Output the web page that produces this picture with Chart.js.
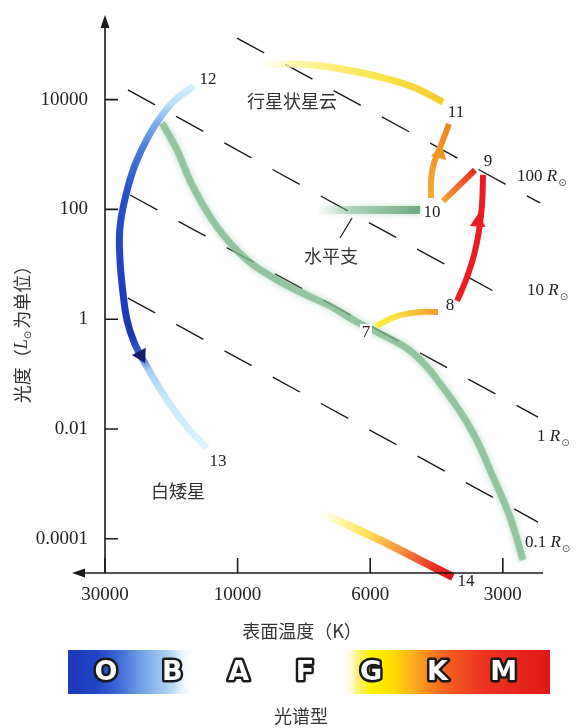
<!DOCTYPE html>
<html>
<head>
<meta charset="utf-8">
<title>太阳的演化路径（赫罗图）</title>
<script src="https://cdn.jsdelivr.net/npm/chart.js@4.4.0/dist/chart.umd.min.js"></script>
<style>
  body { margin: 0; background: #fff; }
  canvas { display: block; }
</style>
</head>
<body>
<canvas id="hr" width="581" height="728"></canvas>
<script>
// 横轴按刻度位置排布：0 = 30000 K, 1 = 10000 K, 2 = 6000 K, 3 = 3000 K
const tempTicks = [0, 1, 2, 3];
const tempLabels = ['30000', '10000', '6000', '3000'];
const lumTicks = [10000, 100, 1, 0.01, 0.0001];
const lumLabels = ['10000', '100', '1', '0.01', '0.0001'];

// 主序带
const msX = [0.43, 0.543, 0.664, 0.845, 1.071, 1.297, 1.471, 1.697, 1.9, 2.051, 2.323, 2.579, 2.775, 2.926, 3.054, 3.152];
const msL = [3750, 1208, 256, 47.8, 12.0, 5.18, 3.13, 1.74, 0.889, 0.585, 0.242, 0.0453, 0.00845, 0.00134, 0.000249, 0.0000411];
// 水平支
const hbX = [1.599, 2.376];
const hbL = [97.5, 97.5];
// 7 -> 8
const sgX = [2.044, 2.202, 2.376, 2.511];
const sgL = [0.752, 1.14, 1.35, 1.35];
// 8 -> 9
const rgX = [2.655, 2.722, 2.783, 2.821, 2.843, 2.851];
const rgL = [2.15, 5.18, 14.8, 42.2, 120, 424];
// 9 -> 10
const flX = [2.79, 2.549];
const flL = [522, 142];
// 10 -> 11
const agX = [2.459, 2.459, 2.481, 2.526, 2.594];
const agL = [161, 343, 700, 1313, 3590];
// 11 -> 12 行星状星云
const pnX = [1.192, 1.32, 1.569, 1.825, 2.074, 2.323, 2.549];
const pnL = [40900, 44500, 42700, 34600, 25800, 17000, 9040];
// 12 -> 13 白矮星
const wdX = [0.671, 0.528, 0.43, 0.324, 0.226, 0.158, 0.113, 0.113, 0.136, 0.166, 0.219, 0.317, 0.468, 0.618, 0.769];
const wdL = [17700, 9840, 5240, 2080, 644, 183, 47.8, 12.0, 3.0, 0.967, 0.384, 0.135, 0.0337, 0.0109, 0.00451];
// 14
const bdX = [1.621, 2.074, 2.624];
const bdL = [0.000308, 0.0000951, 0.0000201];

// 等半径线
const radiusNames = ['100', '10', '1', '0.1'];
const radiusX0 = [0.995, 0.173, 0.189, 0.173];
const radiusL0 = [132000, 15000, 183, 2.43];
const radiusX1 = [3.281, 2.956, 3.265, 3.265];
const radiusL1 = [131, 3.0, 0.0165, 0.000202];
const radiusTagX = [3.107, 3.183, 3.258, 3.167];
const radiusTagL = [389, 3.26, 0.00715, 0.0000838];

// 箭头
const arrowX = [0.271, 2.524, 2.813];
const arrowL = [0.22, 1035, 58.9];
const arrowRot = [152, 15, 4];
const arrowColors = ['#151b6c', '#f29422', '#ec1c24'];

// 标注
const stageText = ['12', '11', '10', '9', '8', '7', '13', '14'];
const stageX = [0.777, 2.647, 2.466, 2.888, 2.602, 1.968, 0.852, 2.722];
const stageL = [22800, 5700, 86, 730, 1.81, 0.561, 0.00251, 0.0000163];
const noteText = ['行星状星云', '水平支', '白矮星'];
const noteX = [1.41, 1.704, 0.551];
const noteL = [9420, 14.2, 0.000743];
const leaderX = [1.863, 1.772];
const leaderL = [69.7, 30.1];

const specLetters = ['O', 'B', 'A', 'F', 'G', 'K', 'M'];

const CJK = '"Noto Sans CJK SC", sans-serif';
const SERIF = '"Liberation Serif", serif';

function pts(xs, ys) {
  return xs.map((x, i) => ({ x: x, y: ys[i] }));
}

// 沿首尾两点方向的渐变
function along(stops) {
  return function (c) {
    const chart = c.chart;
    if (!chart.chartArea) return stops[0][1];
    const d = c.dataset.data;
    const a = d[0], b = d[d.length - 1];
    const sx = chart.scales.x, sy = chart.scales.y;
    const g = chart.ctx.createLinearGradient(
      sx.getPixelForValue(a.x), sy.getPixelForValue(a.y),
      sx.getPixelForValue(b.x), sy.getPixelForValue(b.y));
    stops.forEach(s => g.addColorStop(s[0], s[1]));
    return g;
  };
}

function track(data, color, width, extra) {
  return Object.assign({
    data: data,
    borderColor: color,
    borderWidth: width,
    pointRadius: 0,
    tension: 0.4,
    fill: false,
    clip: false,
    order: 1
  }, extra || {});
}

const datasets = [];

datasets.push(track(pts(arrowX, arrowL), 'transparent', 0, {
  showLine: false,
  pointRadius: 9,
  pointStyle: 'triangle',
  pointRotation: arrowRot,
  pointBackgroundColor: arrowColors,
  pointBorderWidth: 0,
  order: 0
}));

datasets.push(track(pts(wdX, wdL), along([
  [0, '#d2f0fa'], [0.05, '#b4dcf5'], [0.1, '#7eaeea'], [0.17, '#4a7ada'],
  [0.28, '#2a50cc'], [0.55, '#1e3ec2'], [0.68, '#1b36b0'], [0.735, '#3862cc'],
  [0.78, '#a6d0f2'], [0.86, '#c4e8f8'], [1, '#dcf4fb']
]), 7));

datasets.push(track(pts(pnX, pnL), along([
  [0, 'rgba(255,252,200,0.15)'], [0.15, 'rgba(253,246,160,0.85)'],
  [0.4, '#fcec70'], [0.7, '#f9e040'], [1, '#f6cc2c']
]), 7));

datasets.push(track(pts(agX, agL), along([[0, '#f6aa30'], [1, '#f08420']]), 6));
datasets.push(track(pts(flX, flL), along([[0, '#e8261e'], [1, '#f7a634']]), 6, { tension: 0 }));
datasets.push(track(pts(rgX, rgL), '#ec1c24', 6));
datasets.push(track(pts(sgX, sgL), along([[0, '#fff23c'], [0.4, '#fcd840'], [1, '#f39a2c']]), 6));
datasets.push(track(pts(bdX, bdL), along([
  [0, 'rgba(255,250,200,0)'], [0.15, '#fff8a8'], [0.35, '#ffe050'],
  [0.6, '#f59040'], [0.85, '#ec3020'], [1, '#e01020']
]), 8, { tension: 0.2 }));

datasets.push(track(pts(msX, msL), 'rgba(118,180,132,0.68)', 7, {
  glow: 'rgba(140,200,160,0.9)', order: 2
}));
datasets.push(track(pts(hbX, hbL), along([
  [0, 'rgba(130,190,150,0)'], [0.35, 'rgba(120,180,140,0.5)'], [1, 'rgba(100,165,120,0.9)']
]), 8, { tension: 0, glow: 'rgba(130,195,150,0.7)', order: 2 }));

datasets.push(track(pts(leaderX, leaderL), '#222', 1.3, { tension: 0, order: 3 }));

radiusNames.forEach((n, i) => {
  datasets.push(track(pts([radiusX0[i], radiusX1[i]], [radiusL0[i], radiusL1[i]]), '#1a1a1a', 1.4, {
    tension: 0,
    borderDash: [31, 24],
    order: 4
  }));
});

function drawRsun(ctx, num, x, y, size) {
  ctx.textAlign = 'left';
  ctx.textBaseline = 'middle';
  ctx.font = size + 'px ' + SERIF;
  ctx.fillText(num + ' ', x, y);
  x += ctx.measureText(num + ' ').width;
  ctx.font = 'italic ' + size + 'px ' + SERIF;
  ctx.fillText('R', x, y);
  x += ctx.measureText('R').width + 1;
  ctx.font = '10px "DejaVu Sans"';
  ctx.fillStyle = '#555';
  ctx.fillText('⊙', x, y + 6);
  ctx.fillStyle = '#222';
}

const hrDecor = {
  id: 'hrDecor',
  beforeDatasetDraw(chart, args) {
    const ds = chart.data.datasets[args.index];
    if (ds.glow) {
      chart.ctx.save();
      chart.ctx.shadowColor = ds.glow;
      chart.ctx.shadowBlur = 6;
    }
  },
  afterDatasetDraw(chart, args) {
    if (chart.data.datasets[args.index].glow) chart.ctx.restore();
  },
  afterDatasetsDraw(chart) {
    const ctx = chart.ctx;
    const sx = chart.scales.x, sy = chart.scales.y;
    ctx.save();
    ctx.fillStyle = '#222';
    ctx.textAlign = 'center';
    ctx.textBaseline = 'middle';
    ctx.font = '17px ' + SERIF;
    stageText.forEach((t, i) => {
      const x = sx.getPixelForValue(stageX[i]), y = sy.getPixelForValue(stageL[i]);
      if (t === '7') {
        ctx.fillStyle = '#fff';
        ctx.fillRect(x - 6, y - 9, 12, 18);
        ctx.fillStyle = '#222';
      }
      ctx.fillText(t, x, y);
    });
    ctx.font = '18px ' + CJK;
    ctx.fillStyle = '#333';
    noteText.forEach((t, i) => {
      ctx.fillText(t, sx.getPixelForValue(noteX[i]), sy.getPixelForValue(noteL[i]));
    });
    ctx.fillStyle = '#222';
    radiusNames.forEach((n, i) => {
      drawRsun(ctx, n, sx.getPixelForValue(radiusTagX[i]), sy.getPixelForValue(radiusTagL[i]), 17);
    });
    ctx.restore();
  },
  afterDraw(chart) {
    const ctx = chart.ctx;
    const area = chart.chartArea;
    const sx = chart.scales.x, sy = chart.scales.y;
    const x0 = sx.getPixelForValue(0);
    ctx.save();
    ctx.strokeStyle = '#1a1a1a';
    ctx.fillStyle = '#1a1a1a';
    ctx.lineWidth = 1.6;
    // 纵轴
    ctx.beginPath();
    ctx.moveTo(x0, area.bottom);
    ctx.lineTo(x0, area.top + 10);
    ctx.stroke();
    ctx.beginPath();
    ctx.moveTo(x0, area.top);
    ctx.lineTo(x0 - 4.5, area.top + 13);
    ctx.lineTo(x0 + 4.5, area.top + 13);
    ctx.closePath();
    ctx.fill();
    // 横轴（箭头向左）
    ctx.beginPath();
    ctx.moveTo(area.right, area.bottom);
    ctx.lineTo(x0 - 25, area.bottom);
    ctx.stroke();
    ctx.beginPath();
    ctx.moveTo(x0 - 33, area.bottom);
    ctx.lineTo(x0 - 20, area.bottom - 4.5);
    ctx.lineTo(x0 - 20, area.bottom + 4.5);
    ctx.closePath();
    ctx.fill();
    // 刻度线（朝内）
    ctx.beginPath();
    lumTicks.forEach(v => {
      const y = sy.getPixelForValue(v);
      ctx.moveTo(x0, y);
      ctx.lineTo(x0 + 13, y);
    });
    tempTicks.forEach(v => {
      const x = sx.getPixelForValue(v);
      ctx.moveTo(x, area.bottom);
      ctx.lineTo(x, area.bottom - 15);
    });
    ctx.stroke();

    // 纵轴标题
    ctx.save();
    ctx.translate(22, 330);
    ctx.rotate(-Math.PI / 2);
    ctx.fillStyle = '#333';
    ctx.textAlign = 'left';
    ctx.textBaseline = 'middle';
    const parts = [
      ['光度（', '18px ' + CJK, 0],
      ['L', 'italic 18px ' + SERIF, 0],
      ['⊙', '10px "DejaVu Sans"', 6],
      ['为单位）', '18px ' + CJK, 0]
    ];
    let total = 0;
    parts.forEach(p => { ctx.font = p[1]; total += ctx.measureText(p[0]).width + (p[0] === '⊙' ? 2 : 0); });
    let tx = -total / 2;
    parts.forEach(p => {
      ctx.font = p[1];
      ctx.fillText(p[0], tx, p[2]);
      tx += ctx.measureText(p[0]).width + (p[0] === '⊙' ? 2 : 0);
    });
    ctx.restore();

    // 横轴标题
    ctx.fillStyle = '#333';
    ctx.textAlign = 'center';
    ctx.textBaseline = 'middle';
    ctx.font = '18px ' + CJK;
    ctx.fillText('表面温度（K）', 302, 631);

    // 光谱型色带
    const bx = 68, bw = 482, by = 650, bh = 44;
    const g = ctx.createLinearGradient(bx, 0, bx + bw, 0);
    [[0, '#1c3aba'], [0.06, '#2244c4'], [0.1, '#3a64d4'], [0.16, '#7aa8ea'], [0.22, '#bcdaf5'],
     [0.26, 'rgba(255,255,255,0)'], [0.57, 'rgba(255,255,255,0)'], [0.6, '#fff27a'],
     [0.63, '#fff000'], [0.67, '#ffe000'], [0.72, '#f8a820'], [0.78, '#f26220'],
     [0.86, '#ec3420'], [1, '#de1818']].forEach(s => g.addColorStop(s[0], s[1]));
    ctx.fillStyle = g;
    ctx.fillRect(bx, by, bw, bh);

    ctx.font = 'bold 27px "DejaVu Sans"';
    ctx.lineJoin = 'round';
    ctx.lineWidth = 5;
    ctx.strokeStyle = '#1a1a1a';
    specLetters.forEach((s, i) => {
      const cx = 106 + i * 66.3;
      ctx.strokeText(s, cx, by + bh / 2 + 1);
      ctx.fillStyle = '#fff';
      ctx.fillText(s, cx, by + bh / 2 + 1);
    });

    ctx.fillStyle = '#333';
    ctx.font = '18px ' + CJK;
    ctx.fillText('光谱型', 301, 716);
    ctx.restore();
  }
};

new Chart(document.getElementById('hr'), {
  type: 'line',
  data: { datasets: datasets },
  plugins: [hrDecor],
  options: {
    responsive: false,
    animation: false,
    events: [],
    layout: { padding: { top: 15, right: 38, left: 0, bottom: 0 } },
    plugins: {
      legend: { display: false },
      tooltip: { enabled: false }
    },
    scales: {
      x: {
        type: 'linear',
        min: 0,
        max: 3.303,
        grid: { display: false, drawTicks: false },
        border: { display: false },
        afterBuildTicks: s => { s.ticks = tempTicks.map(v => ({ value: v })); },
        afterFit: s => { s.height = 155; s.paddingLeft = 0; s.paddingRight = 0; },
        ticks: {
          autoSkip: false,
          maxRotation: 0,
          padding: 11,
          color: '#222',
          font: { family: 'Liberation Serif', size: 19 },
          callback: (v, i) => tempLabels[i]
        }
      },
      y: {
        type: 'logarithmic',
        min: 0.0000238,
        max: 348000,
        grid: { display: false, drawTicks: false },
        border: { display: false },
        afterBuildTicks: s => { s.ticks = lumTicks.map(v => ({ value: v })); },
        afterFit: s => { s.width = 105; s.paddingTop = 0; s.paddingBottom = 0; },
        ticks: {
          autoSkip: false,
          padding: 17,
          color: '#222',
          font: { family: 'Liberation Serif', size: 19 },
          callback: (v, i) => lumLabels[i]
        }
      }
    }
  }
});
</script>
</body>
</html>
